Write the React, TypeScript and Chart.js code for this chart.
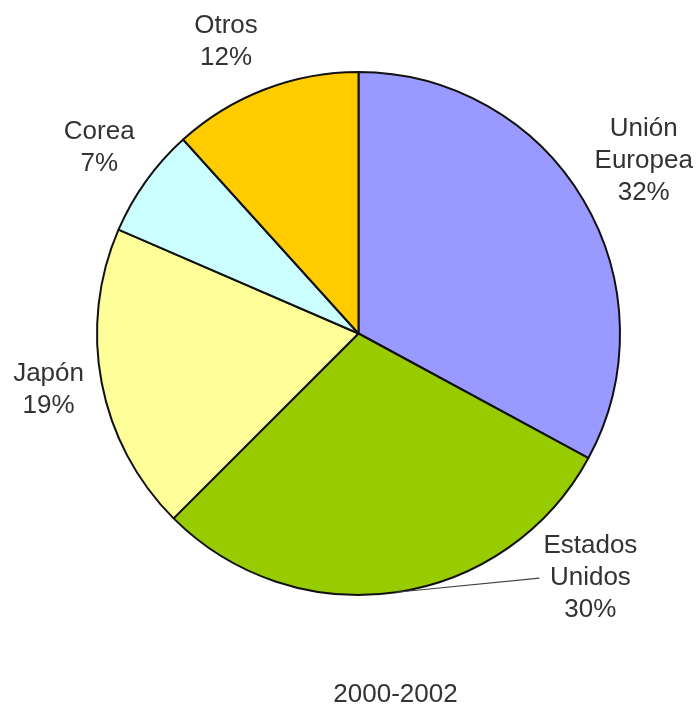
import React, { useEffect, useRef } from "react";
import { Chart, registerables } from "chart.js";

Chart.register(...registerables);

// Data
const categories = ["Unión Europea", "Estados Unidos", "Japón", "Corea", "Otros"];
const labelLines = [["Unión", "Europea"], ["Estados", "Unidos"], ["Japón"], ["Corea"], ["Otros"]];
const percentLabels = ["32%", "30%", "19%", "7%", "12%"];
const shares = [32.9, 29.6, 19.0, 6.8, 11.7];
const periodTitle = "2000-2002";

const colors = ["#9999FF", "#99CC00", "#FFFF99", "#CCFFFF", "#FFCC00"];

// label placement relative to each slice: angle adjust (deg) and extra distance beyond radius
const labelPlacement = [
  { dAngle: -0.3, extra: 71.5, leader: false },
  { dAngle: -35.2, extra: 75.5, leader: true },
  { dAngle: 0.5, extra: 53.5, leader: false },
  { dAngle: 0, extra: 57.5, leader: false },
  { dAngle: -3.4, extra: 58.5, leader: false },
];

const FONT = "25px 'Liberation Sans', Arial, sans-serif";
const LINE_H = 32;
const SX = 1.04;

const labelPlugin = {
  id: "outerLabels",
  afterDatasetsDraw(chart: any) {
    const ctx = chart.ctx;
    const meta = chart.getDatasetMeta(0);
    ctx.save();
    ctx.font = FONT;
    ctx.fillStyle = "#333";
    ctx.textAlign = "center";
    ctx.textBaseline = "middle";
    meta.data.forEach((arc: any, i: number) => {
      const { x, y, startAngle, endAngle, outerRadius } = arc.getProps(
        ["x", "y", "startAngle", "endAngle", "outerRadius"],
        true
      );
      const mid = (startAngle + endAngle) / 2;
      const p = labelPlacement[i];
      const a = mid + (p.dAngle * Math.PI) / 180;
      const d = outerRadius + p.extra;
      const cx = x + Math.cos(a) * d;
      const cy = y + Math.sin(a) * d;
      const lines = [...labelLines[i], percentLabels[i]];
      if (p.leader) {
        const ex = x + Math.cos(mid) * outerRadius;
        const ey = y + Math.sin(mid) * outerRadius;
        let maxW = 0;
        lines.forEach((l) => (maxW = Math.max(maxW, ctx.measureText(l).width * SX)));
        ctx.save();
        ctx.strokeStyle = "#444";
        ctx.lineWidth = 1.2;
        ctx.beginPath();
        ctx.moveTo(ex, ey);
        ctx.lineTo(cx - maxW / 2 - 4, cy);
        ctx.stroke();
        ctx.restore();
      }
      lines.forEach((l, k) => {
        const ly = cy + (k - (lines.length - 1) / 2) * LINE_H;
        ctx.save();
        ctx.translate(cx, ly);
        ctx.scale(SX, 1);
        ctx.fillText(l, 0, 0);
        ctx.restore();
      });
    });
    // period title
    const area = chart.chartArea;
    ctx.save();
    ctx.translate((area.left + area.right) / 2 + 37, area.bottom + 99);
    ctx.scale(SX, 1);
    ctx.fillText(periodTitle, 0, 0);
    ctx.restore();
    ctx.restore();
  },
};

export default function App() {
  const ref = useRef<HTMLCanvasElement | null>(null);
  useEffect(() => {
    if (!ref.current) return;
    const chart = new Chart(ref.current, {
      type: "pie",
      data: {
        labels: categories,
        datasets: [
          {
            data: shares,
            backgroundColor: colors,
            borderColor: "#111",
            borderWidth: 2,
            borderAlign: "center",
          } as any,
        ],
      },
      options: {
        responsive: false,
        animation: false,
        devicePixelRatio: 1,
        layout: { padding: { left: 96, right: 78, top: 71, bottom: 110 } },
        plugins: {
          legend: { display: false },
          tooltip: { enabled: false },
          title: { display: false },
        },
      } as any,
      plugins: [labelPlugin],
    });
    return () => chart.destroy();
  }, []);
  return (
    <div style={{ position: "absolute", left: 0, top: 0, width: 699, height: 706, background: "#fff" }}>
      <canvas ref={ref} width={699} height={706} />
    </div>
  );
}
